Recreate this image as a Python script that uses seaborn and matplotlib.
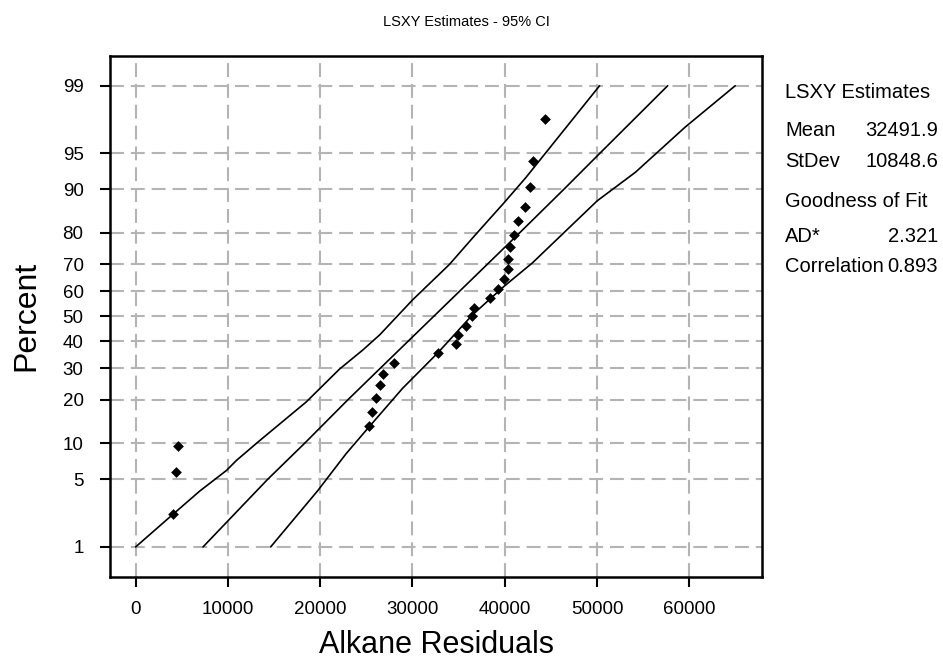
from statistics import NormalDist

import numpy as np
import pandas as pd
import matplotlib
matplotlib.use("Agg")
import matplotlib.pyplot as plt
import seaborn as sns

# observed residuals and their plotting positions (percent)
point_x = [4065, 4320, 4540, 25250, 25650, 26050, 26520, 26770, 28030, 32750,
           34700, 34920, 35780, 36460, 36680, 38380, 39240, 39890, 40320, 40320,
           40540, 40970, 41400, 42230, 42700, 43090, 44390]
point_pct = [2.3, 5.8, 9.6, 13.5, 16.8, 20.5, 24.3, 28.1, 31.8, 35.5,
             39.1, 42.5, 46.3, 50.3, 53.5, 57.5, 60.7, 64.5, 68.2, 71.7,
             75.7, 79.4, 83.1, 86.4, 90.4, 94.1, 97.7]

# fitted line
fit_pct = [1, 5, 10, 20, 30, 50, 70, 80, 90, 95, 99]
fit_x = [7300, 14300, 18300, 23000, 26500, 32300, 38100, 41600, 46400, 50300, 57650]

# 95% CI bands
upper_pct = [1, 2.3, 3.9, 6.0, 7.3, 10.5, 19.4, 29.7, 36.7, 42.6, 56.6, 69.9, 79.6, 87.4, 91.9, 99]
upper_x = [0, 4065, 6950, 9840, 10920, 13440, 18490, 22080, 24610, 26450, 30010, 33980, 36860, 39920, 42270, 50270]
lower_pct = [1, 3.94, 8.3, 12.5, 23.4, 35.5, 50.6, 61.9, 70.5, 87.8, 92.7, 97.2, 99]
lower_x = [14630, 19740, 22810, 24970, 28930, 32710, 36500, 39920, 42990, 50010, 54160, 59570, 64970]

pct_ticks = [1, 5, 10, 20, 30, 40, 50, 60, 70, 80, 90, 95, 99]
x_ticks = [0, 10000, 20000, 30000, 40000, 50000, 60000]

mean_val = "32491.9"
stdev_val = "10848.6"
ad_val = "2.321"
corr_val = "0.893"

sns.set_style("white")
plt.rcParams["font.family"] = ["Liberation Sans", "DejaVu Sans"]
plt.rcParams["lines.scale_dashes"] = False
plt.rcParams["text.color"] = "black"
plt.rcParams["axes.labelcolor"] = "black"

nd = NormalDist()
_ppf = np.vectorize(nd.inv_cdf, otypes=[float])
_cdf = np.vectorize(nd.cdf, otypes=[float])


def fwd(p):
    p = np.clip(np.asarray(p, dtype=float) / 100.0, 1e-9, 1 - 1e-9)
    return _ppf(p)


def inv(z):
    return _cdf(np.asarray(z, dtype=float)) * 100.0


fig = plt.figure(figsize=(9.43, 6.66), dpi=100)
ax = fig.add_axes([0.1166, 0.1336, 0.6918, 0.7828])
ax.set_yscale("function", functions=(fwd, inv))

grid_kw = dict(color="#b4b4b4", lw=1.5, ls=(0, (10, 5)), zorder=0)
for t in pct_ticks:
    ax.axhline(t, **grid_kw)
for t in x_ticks:
    ax.axvline(t, **grid_kw)

lines = pd.concat([
    pd.DataFrame({"x": upper_x, "pct": upper_pct, "band": "upper"}),
    pd.DataFrame({"x": fit_x, "pct": fit_pct, "band": "fit"}),
    pd.DataFrame({"x": lower_x, "pct": lower_pct, "band": "lower"}),
])
sns.lineplot(data=lines, x="x", y="pct", units="band", estimator=None, sort=False,
             color="black", lw=1.2, ax=ax, legend=False)

pts = pd.DataFrame({"x": point_x, "pct": point_pct})
sns.scatterplot(data=pts, x="x", y="pct", marker="D", s=30, color="black",
                edgecolor="black", linewidth=0, ax=ax, zorder=5)

ax.set_xlim(-2785, 67910)
ax.set_ylim(inv(-2.63), inv(2.63))
ax.set_yticks(pct_ticks)
ax.set_yticklabels([str(t) for t in pct_ticks])
ax.yaxis.set_minor_locator(matplotlib.ticker.NullLocator())
ax.set_xticks(x_ticks)
ax.set_xticklabels([str(t) for t in x_ticks])

ax.tick_params(axis="both", direction="out", length=7, width=1.5, color="black",
               labelcolor="black", labelsize=13.5, left=True, bottom=True)
ax.tick_params(axis="y", pad=12)
ax.tick_params(axis="x", pad=10)
for s in ax.spines.values():
    s.set_color("black")
    s.set_linewidth(1.8)

ax.set_xlabel("Alkane Residuals", fontsize=22, labelpad=9)
ax.set_ylabel("Percent", fontsize=23, labelpad=15)

fig.text(0.495, 0.967, "LSXY Estimates - 95% CI", ha="center", va="center", fontsize=10.5)

tx = 785 / 943
rx = 938 / 943
fs = 14.5
fig.text(tx, 1 - 92 / 666, "LSXY Estimates", fontsize=fs, va="center")
fig.text(tx, 1 - 131 / 666, "Mean", fontsize=fs, va="center")
fig.text(rx, 1 - 131 / 666, mean_val, fontsize=fs, va="center", ha="right")
fig.text(tx, 1 - 161 / 666, "StDev", fontsize=fs, va="center")
fig.text(rx, 1 - 161 / 666, stdev_val, fontsize=fs, va="center", ha="right")
fig.text(tx, 1 - 202 / 666, "Goodness of Fit", fontsize=fs, va="center")
fig.text(tx, 1 - 236 / 666, "AD*", fontsize=fs, va="center")
fig.text(rx, 1 - 236 / 666, ad_val, fontsize=fs, va="center", ha="right")
fig.text(tx, 1 - 267 / 666, "Correlation", fontsize=fs, va="center")
fig.text(rx, 1 - 267 / 666, corr_val, fontsize=fs, va="center", ha="right")

fig.savefig("out.png", dpi=100)
